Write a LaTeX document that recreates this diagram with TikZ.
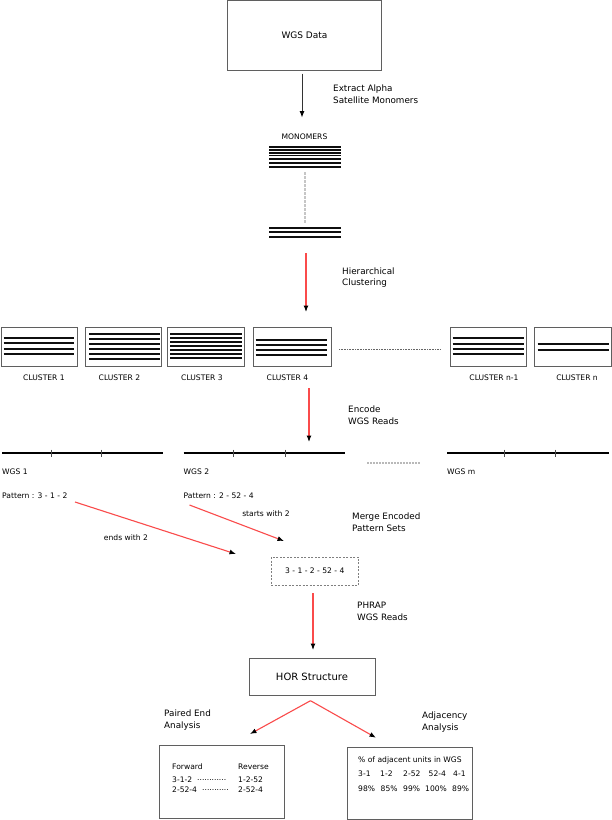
\documentclass[tikz,border=0pt]{standalone}
\usepackage{fontspec}
\setmainfont{DejaVu Sans}
\usetikzlibrary{arrows.meta}
\definecolor{redline}{RGB}{250,75,75}
\definecolor{boxgray}{RGB}{95,95,95}
\definecolor{bargray}{RGB}{15,15,15}
\tikzset{
  box/.style={draw=boxgray, line width=0.9pt, rectangle, inner sep=0pt, outer sep=0pt},
  dbox/.style={draw=boxgray!80, line width=0.7pt, dash pattern=on 2pt off 1.5pt, rectangle, inner sep=0pt, outer sep=0pt},
  smalltxt/.style={font=\fontsize{7.6}{9}\selectfont, inner sep=0pt},
  lbl/.style={font=\fontsize{8.8}{11.8}\selectfont, align=left, anchor=west, inner sep=0pt},
  bigtxt/.style={font=\fontsize{9}{11}\selectfont, inner sep=0pt},
  bar/.style={line width=2.2pt, bargray},
  thinbar/.style={line width=1.9pt, bargray},
  blackarr/.style={black!80, line width=0.9pt, -{Latex[length=6.5pt,width=5pt,black]}},
  redarr/.style={redline, line width=1.1pt, -{Latex[length=6.5pt,width=5pt,black]}},
  wgsline/.style={line width=2pt, black},
  tick/.style={line width=0.6pt, black!70},
}
\begin{document}
\begin{tikzpicture}[x=1pt,y=-1pt]
\useasboundingbox[fill=white] (0,0) rectangle (612,820);

% WGS Data
\node[box, minimum width=154pt, minimum height=69.5pt] (wgs) at (304.5,35.5) {};
\node[bigtxt] (wgstxt) at (wgs.center) {WGS Data};
\coordinate (a1s) at (302,73.5);
\coordinate (a1e) at (302,117.5);
\draw[blackarr] (a1s) -- (a1e);
\node[lbl] (l1) at (333,94.5) {Extract Alpha\\Satellite Monomers};

% Monomers
\node[smalltxt] (mono) at (304.5,136.7) {MONOMERS};
\foreach \y in {146.9,149.9,152.7,155.5,159.3,163.3,167.3}
  \draw[thinbar] (269,\y) -- (340.5,\y);
\draw[gray!45, line width=1.2pt, dash pattern=on 3pt off 1pt] (305,172) -- (305,223);
\foreach \y in {227.7,232.3,236.7}
  \draw[thinbar] (269,\y) -- (340.5,\y);
\coordinate (a2s) at (306,253);
\coordinate (a2e) at (306,312);
\draw[redarr] (a2s) -- (a2e);
\node[lbl] (l2) at (342,277.5) {Hierarchical\\Clustering};

% Clusters
\node[box, minimum width=76pt, minimum height=39pt] (c1) at (39.5,346.5) {};
\node[box, minimum width=76pt, minimum height=39pt] (c2) at (123.5,346.5) {};
\node[box, minimum width=77pt, minimum height=39pt] (c3) at (206,346.5) {};
\node[box, minimum width=78pt, minimum height=39pt] (c4) at (292,346.5) {};
\node[box, minimum width=76pt, minimum height=39pt] (cn1) at (488.5,346.5) {};
\node[box, minimum width=77pt, minimum height=39pt] (cn) at (572.8,346.5) {};
\foreach \y in {337.7,343.3,348.7,353.7} \draw[bar] (3.5,\y) -- (74,\y);
\foreach \y in {333.7,338.7,343.7,349,354,359} \draw[bar] (89,\y) -- (160,\y);
\foreach \y in {333.7,337.9,342,346,350,354,358.3} \draw[thinbar] (170,\y) -- (241.7,\y);
\foreach \y in {340,345,350,354.7} \draw[bar] (255.5,\y) -- (326.5,\y);
\foreach \y in {338.3,344,349,353.7} \draw[bar] (452.5,\y) -- (524,\y);
\foreach \y in {344.3,349.7} \draw[bar] (537.7,\y) -- (609,\y);
\coordinate (dots) at (339,349);
\coordinate (dote) at (441,349);
\draw[black!60, line width=0.9pt, dash pattern=on 0.8pt off 0.8pt] (dots) -- (dote);
\node[smalltxt] (lc1) at (44,378) {CLUSTER 1};
\node[smalltxt] (lc2) at (119.5,378) {CLUSTER 2};
\node[smalltxt] (lc3) at (202,378) {CLUSTER 3};
\node[smalltxt] (lc4) at (287.5,378) {CLUSTER 4};
\node[smalltxt] (lcn1) at (494,378) {CLUSTER n-1};
\node[smalltxt] (lcn) at (577,378) {CLUSTER n};

\coordinate (a3s) at (309,388);
\coordinate (a3e) at (309,442);
\draw[redarr] (a3s) -- (a3e);
\node[lbl] (l3) at (348,415) {Encode\\WGS Reads};

% WGS reads
\draw[wgsline] (2,453) -- (163,453);
\draw[tick] (51,449.5) -- (51,456.5);
\draw[tick] (101.5,449.5) -- (101.5,456.5);
\draw[wgsline] (183.5,453) -- (345,453);
\draw[tick] (233.6,449.5) -- (233.6,456.5);
\draw[tick] (285,449.5) -- (285,456.5);
\draw[gray!55, line width=1.2pt, dash pattern=on 2pt off 1pt] (367,463) -- (420,463);
\draw[wgsline] (447,453) -- (609,453);
\draw[tick] (504,449.5) -- (504,456.5);
\draw[tick] (555,449.5) -- (555,456.5);
\node[smalltxt, anchor=west] (w1) at (2,472) {WGS 1};
\node[smalltxt, anchor=west] (w2) at (183.5,472) {WGS 2};
\node[smalltxt, anchor=west] (wm) at (447,472) {WGS m};
\node[smalltxt, anchor=west] (p1) at (2,496) {Pattern : 3 - 1 - 2};
\node[smalltxt, anchor=west] (p2) at (183.5,496) {Pattern : 2 - 52 - 4};

% Merge
\node[dbox, minimum width=87.5pt, minimum height=28pt] (merge) at (314.8,571) {};
\node[smalltxt] (mtxt) at (merge.center) {3 - 1 - 2 - 52 - 4};
\coordinate (p1s) at (75,502);
\coordinate (p1e) at (236,554);
\coordinate (p2s) at (189.5,505);
\coordinate (p2e) at (284,541);
\draw[redarr] (p1s) -- (p1e);
\draw[redarr] (p2s) -- (p2e);
\node[smalltxt] (ends) at (126,538) {ends with 2};
\node[smalltxt] (starts) at (266,514) {starts with 2};
\node[lbl] (l4) at (352,522) {Merge Encoded\\Pattern Sets};

\coordinate (a5s) at (313,593);
\coordinate (a5e) at (313,650);
\draw[redarr] (a5s) -- (a5e);
\node[lbl] (l5) at (357,611) {PHRAP\\WGS Reads};

% HOR
\node[box, minimum width=126pt, minimum height=37pt] (hor) at (312,676.5) {};
\node[font=\fontsize{10}{12}\selectfont, inner sep=0pt] (hortxt) at (hor.center) {HOR Structure};
\coordinate (fan) at (310.5,700.7);
\coordinate (fanl) at (250,734);
\coordinate (fanr) at (376,737.7);
\draw[redarr] (fan) -- (fanl);
\draw[redarr] (fan) -- (fanr);
\node[lbl] (l6) at (164,720) {Paired End\\Analysis};
\node[lbl] (l7) at (422,722) {Adjacency\\Analysis};

% Paired end box
\node[box, minimum width=125.5pt, minimum height=72.3pt] (pe) at (221.8,781.9) {};
\node[smalltxt, anchor=west] (fw) at (172,767) {Forward};
\node[smalltxt, anchor=west] (rv) at (238,767) {Reverse};
\node[smalltxt, anchor=west] (f1) at (172,780) {3-1-2};
\node[smalltxt, anchor=west] (d1) at (197,780) {............};
\node[smalltxt, anchor=west] (r1) at (238,780) {1-2-52};
\node[smalltxt, anchor=west] (f2) at (172,790) {2-52-4};
\node[smalltxt, anchor=west] (d2) at (202,790) {...........};
\node[smalltxt, anchor=west] (r2) at (238,790) {2-52-4};

% Adjacency box
\node[box, minimum width=125pt, minimum height=72pt] (adj) at (410.1,783) {};
\node[smalltxt, anchor=west] (adjt) at (358,760) {\% of adjacent units in WGS};
\node[smalltxt, anchor=west] (u1) at (358,774) {3-1};
\node[smalltxt, anchor=west] (u2) at (380,774) {1-2};
\node[smalltxt, anchor=west] (u3) at (403,774) {2-52};
\node[smalltxt, anchor=west] (u4) at (428.5,774) {52-4};
\node[smalltxt, anchor=west] (u5) at (453,774) {4-1};
\node[smalltxt, anchor=west] (v1) at (358,789) {98\%};
\node[smalltxt, anchor=west] (v2) at (380.5,789) {85\%};
\node[smalltxt, anchor=west] (v3) at (403,789) {99\%};
\node[smalltxt, anchor=west] (v4) at (425,789) {100\%};
\node[smalltxt, anchor=west] (v5) at (452,789) {89\%};
\end{tikzpicture}
\end{document}
